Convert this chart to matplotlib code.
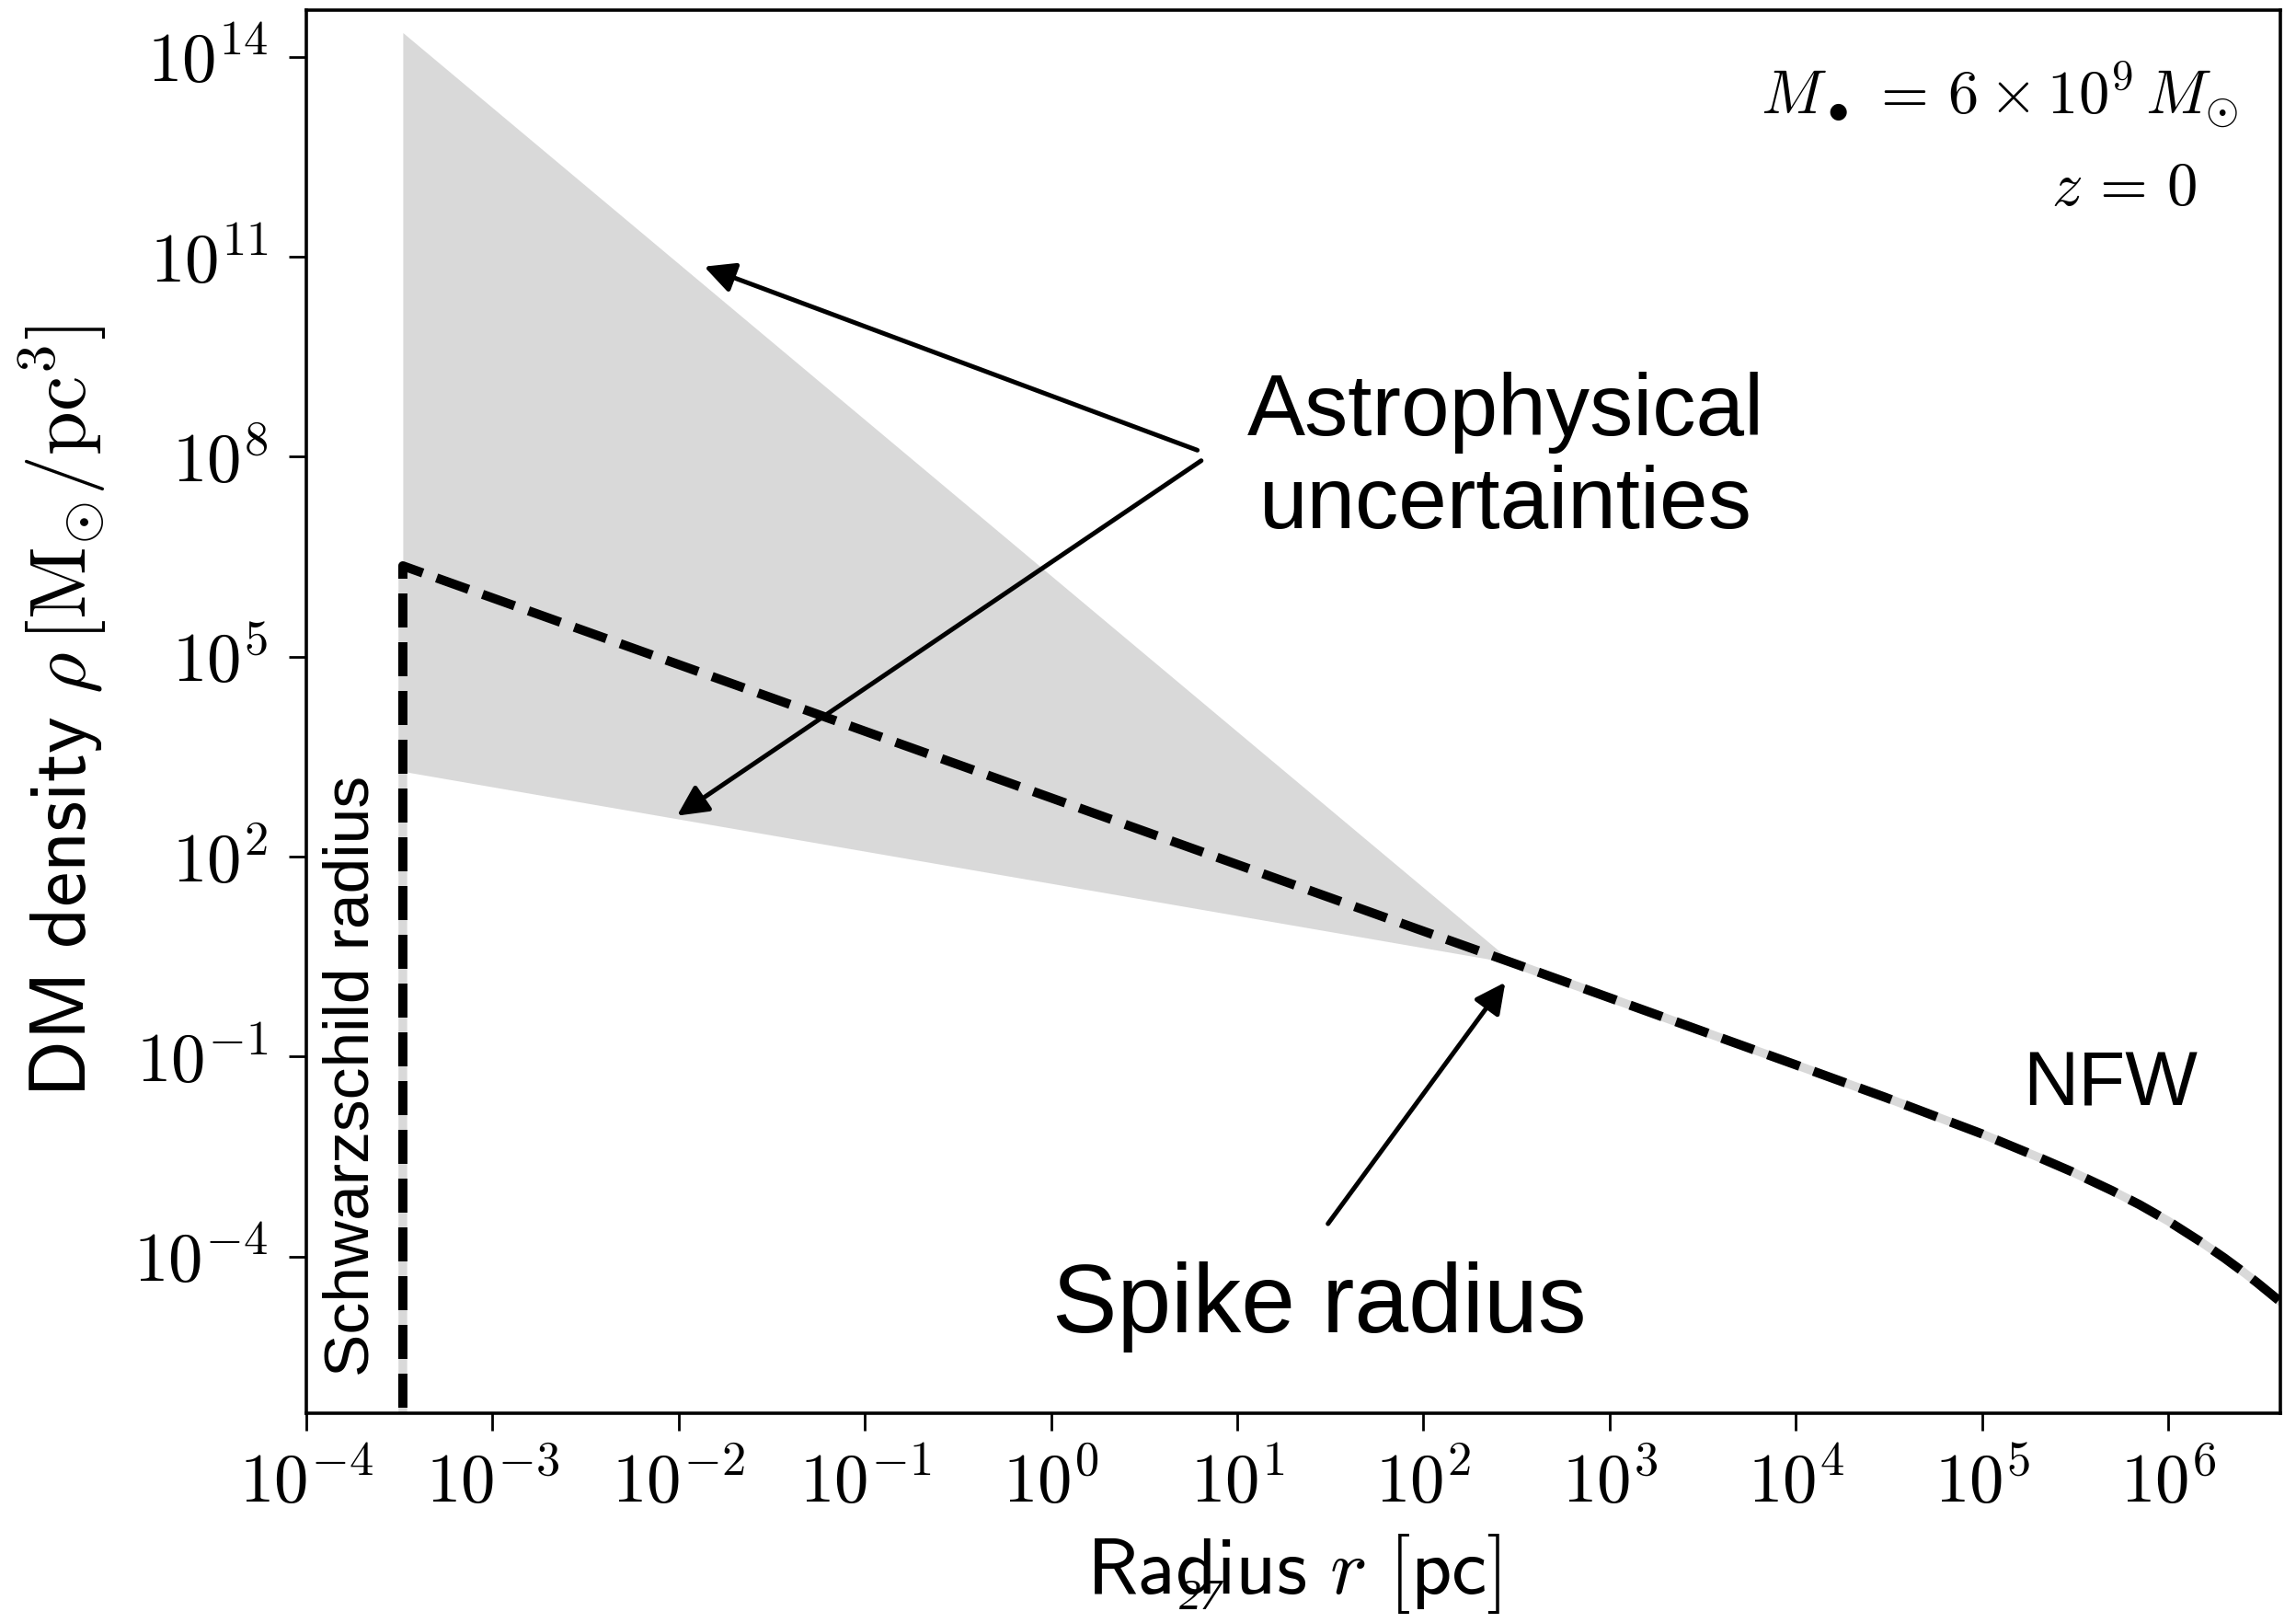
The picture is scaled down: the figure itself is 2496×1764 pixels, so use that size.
import numpy as np
import matplotlib.pyplot as plt
from matplotlib.ticker import FixedLocator, FuncFormatter, NullLocator

plt.rcParams['mathtext.fontset'] = 'cm'
plt.rcParams['font.family'] = ['Liberation Sans', 'DejaVu Sans']

# radii in pc, densities in M_sun / pc^3
r_schw = 3.3e-4
rho_floor = 1e-7  # vertical marker runs off the bottom of the axes

# NFW profile, inner r^-1 cusp continued down to the Schwarzschild radius
r_nfw = [3.3e-4, 1e-3, 1e-2, 1e-1, 1.0, 10.0, 100.0, 306.0, 1e3,
         1e4, 3e4, 1e5, 2e5, 3e5, 5e5, 7e5, 1e6, 1.5e6, 2e6, 2.5e6,
         3e6, 4e6]
rho_nfw = [2.3e6, 7.6e5, 7.6e4, 7.6e3, 760.0, 76.0, 7.6, 2.5, 0.76,
           7.5e-2, 2.46e-2, 6.9e-3, 3.1e-3, 1.9e-3, 9.7e-4, 6.0e-4,
           3.4e-4, 1.65e-4, 9.5e-5, 6.0e-5, 4.05e-5, 2.1e-5]

# range of spike profiles between r_schw and the spike radius
band_r = [3.3e-4, 306.0]
band_upper = [2.3e14, 2.5]
band_lower = [1.9e3, 2.5]

x_ticks = [1e-4, 1e-3, 1e-2, 1e-1, 1e0, 1e1, 1e2, 1e3, 1e4, 1e5, 1e6]
y_ticks = [1e-4, 1e-1, 1e2, 1e5, 1e8, 1e11, 1e14]

grey = '#d9d9d9'

fig = plt.figure(figsize=(12.48, 8.82), dpi=200)
ax = fig.add_axes([0.1334, 0.1293, 0.9932 - 0.1334, 0.9938 - 0.1293])

ax.fill_between(band_r, band_lower, band_upper, color=grey, lw=0, zorder=1)

r_line = [r_schw] + r_nfw
rho_line = [rho_floor] + rho_nfw
ax.plot(r_line, rho_line, color=grey, lw=3.4, zorder=2)
ax.plot(r_line, rho_line, color='k', ls='--', lw=3.6, zorder=3)

ax.set_xscale('log')
ax.set_yscale('log')
ax.set_xlim(1e-4, 4e6)
ax.set_ylim(10**-6.35, 10**14.7)

ax.xaxis.set_major_locator(FixedLocator(x_ticks))
ax.yaxis.set_major_locator(FixedLocator(y_ticks))
ax.xaxis.set_minor_locator(NullLocator())
ax.yaxis.set_minor_locator(NullLocator())
fmt = FuncFormatter(lambda v, _: r'$10^{%d}$' % int(round(np.log10(v))))
ax.xaxis.set_major_formatter(fmt)
ax.yaxis.set_major_formatter(fmt)
ax.tick_params(direction='out', length=7, width=1.0, labelsize=27, pad=8)
for sp in ax.spines.values():
    sp.set_linewidth(1.3)

ax.set_xlabel(r'$\mathsf{Radius}\ r\ \mathsf{[pc]}$', fontsize=31, labelpad=6)
ax.set_ylabel(r'$\mathsf{DM\ density}\ \rho\,[\mathrm{M}_{\odot}/\mathrm{pc}^3]$',
              fontsize=31, labelpad=10)

arrow = dict(arrowstyle='-|>', color='k', lw=1.8, mutation_scale=25,
             shrinkA=0, shrinkB=0)
ax.annotate('', xy=(0.0137, 7.1e10), xytext=(6.1, 1.25e8), arrowprops=arrow)
ax.annotate('', xy=(9.8e-3, 410.0), xytext=(6.4, 8.7e7), arrowprops=arrow)
ax.annotate('', xy=(275.0, 1.3), xytext=(30.7, 3.1e-4), arrowprops=arrow)

ax.text(0.6076, 0.680, 'Astrophysical\nuncertainties', transform=ax.transAxes,
        ha='center', va='center', multialignment='center', fontsize=34,
        linespacing=1.18)
ax.text(0.513, 0.0574, 'Spike radius', transform=ax.transAxes,
        ha='center', va='baseline', fontsize=38)
ax.text(0.914, 0.219, 'NFW', transform=ax.transAxes,
        ha='center', va='baseline', fontsize=30)
ax.text(0.023, 0.24, 'Schwarzschild radius', transform=ax.transAxes,
        ha='center', va='center', rotation=90, fontsize=25)

ax.text(0.9785, 0.926, r'$M_\bullet \,=\, 6\times10^9\,M_{\odot}$',
        transform=ax.transAxes, ha='right', va='baseline', fontsize=24)
ax.text(0.958, 0.861, r'$z \,=\, 0$', transform=ax.transAxes,
        ha='right', va='baseline', fontsize=24)

fig.text(0.523, 0.003, '27', ha='center', va='bottom', fontsize=17,
         family='Liberation Serif', style='italic')

fig.savefig('out.png', dpi=200)
